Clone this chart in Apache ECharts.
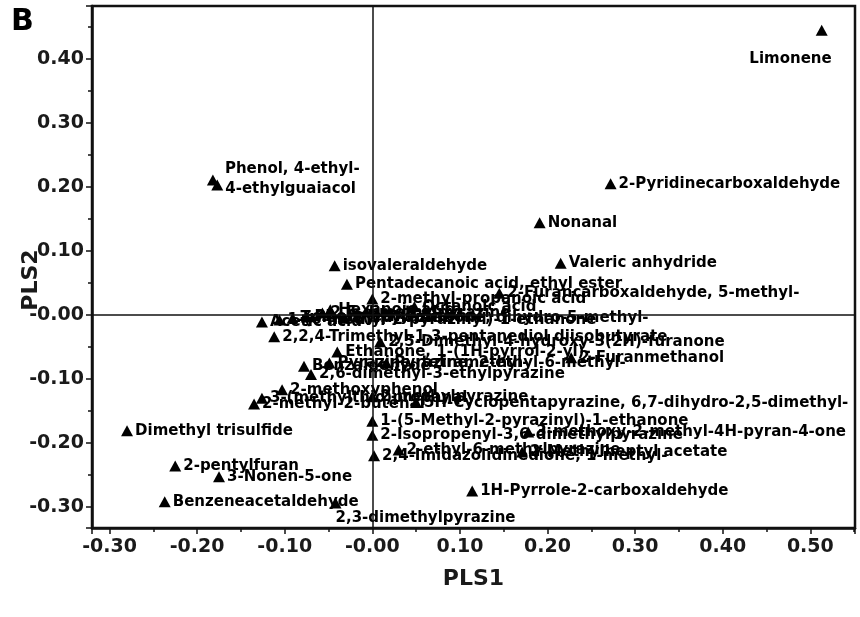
<!DOCTYPE html>
<html><head><meta charset="utf-8">
<script src="https://cdn.jsdelivr.net/npm/echarts@6/dist/echarts.min.js"></script>
<style>html,body{margin:0;padding:0;background:#fff}#c{width:860px;height:617px}</style>
</head><body><div id="c"></div>
<script>
// ---- data ----
const compounds = [
  'Limonene', 'Phenol, 4-ethyl-', '4-ethylguaiacol', '2-Pyridinecarboxaldehyde', 'Nonanal',
  'Valeric anhydride', 'isovaleraldehyde', 'Pentadecanoic acid, ethyl ester', '2-Furancarboxaldehyde, 5-methyl-',
  '2-methyl-propanoic acid', 'Hexanoic acid', 'Octanoic acid', '2(3H)-Furanone, dihydro-5-methyl-',
  'Acetic acid', '1-(6-methyl-2-pyrazinyl)-1-ethanone', 'Trimethylpyrazine', 'Phenylethyl Alcohol',
  '2,5-dimethylpyrazine', '2,2,4-Trimethyl-1,3-pentanediol diisobutyrate', '2,5-Dimethyl-4-hydroxy-3(2H)-furanone',
  'Ethanone, 1-(1H-pyrrol-2-yl)-', '2-Furanmethanol', 'Pyrazine, tetramethyl-', 'Benzaldehyde',
  'Pyrazine, 2-ethyl-6-methyl-', '2,6-dimethyl-3-ethylpyrazine', '2-methoxyphenol', '3-(methylthio)propanal',
  '2-methyl-2-butenal', '2-methylpyrazine', '5H-Cyclopentapyrazine, 6,7-dihydro-2,5-dimethyl-',
  '1-(5-Methyl-2-pyrazinyl)-1-ethanone', '2-Isopropenyl-3,6-dimethylpyrazine', '3-methoxy-2-methyl-4H-pyran-4-one',
  '2,4-Imidazolidinedione, 1-methyl-', '2-ethyl-6-methylpyrazine', '2-Methylheptyl acetate',
  '1H-Pyrrole-2-carboxaldehyde', '2,3-dimethylpyrazine', 'Dimethyl trisulfide', '2-pentylfuran',
  '3-Nonen-5-one', 'Benzeneacetaldehyde'
];
const pls1 = [
  0.513, -0.182, -0.177, 0.272, 0.191,
  0.215, -0.043, -0.029, 0.145,
  0.000, -0.048, 0.048, -0.032,
  -0.126, -0.106, -0.091, -0.075,
  -0.057, -0.112, 0.009,
  -0.040, 0.227, -0.049, -0.078,
  0.016, -0.070, -0.103, -0.126,
  -0.135, 0.000, 0.050,
  0.000, 0.000, 0.178,
  0.002, 0.030, 0.171,
  0.114, -0.042, -0.280, -0.225,
  -0.175, -0.237
];
const pls2 = [
  0.445, 0.211, 0.203, 0.205, 0.144,
  0.081, 0.077, 0.048, 0.034,
  0.025, 0.008, 0.013, -0.005,
  -0.011, -0.008, -0.005, -0.003,
  0.003, -0.034, -0.042,
  -0.058, -0.067, -0.075, -0.080,
  -0.075, -0.093, -0.117, -0.130,
  -0.139, -0.128, -0.137,
  -0.166, -0.188, -0.183,
  -0.220, -0.211, -0.214,
  -0.275, -0.294, -0.181, -0.236,
  -0.253, -0.292
];
const xRange = [-0.32, 0.551];
const yRange = [-0.333, 0.483];

// ---- styling ----
const FONT = 'DejaVu Sans';
// label anchors relative to the marker's bounding box (top-left corner)
const labelPlacement = {
  'Limonene': { position: [16, 34], align: 'right', verticalAlign: 'middle' },
  'Phenol, 4-ethyl-': { position: [18, -5], align: 'left', verticalAlign: 'middle' },
  '4-ethylguaiacol': { position: [14, 9], align: 'left', verticalAlign: 'middle' },
  '2,3-dimethylpyrazine': { position: 'bottom', align: 'left', offset: [4, -4] }
};
const fmt = v => (Math.abs(v) < 1e-9 ? '-0.00' : v.toFixed(2));

const points = compounds.map((name, i) => {
  const lp = labelPlacement[name] || {};
  return {
    name: name,
    value: [pls1[i], pls2[i]],
    label: Object.assign({ position: 'right', distance: 2 }, lp)
  };
});

const chart = echarts.init(document.getElementById('c'), null, { renderer: 'canvas' });
const axisCommon = {
  type: 'value',
  splitLine: { show: false },
  axisLine: { show: true, onZero: false, lineStyle: { color: '#111', width: 2.5 } },
  axisTick: { show: true, inside: false, length: 6, lineStyle: { color: '#111', width: 1.5 } },
  minorTick: { show: true, splitNumber: 2, length: 4, lineStyle: { color: '#111', width: 1.5 } },
  axisLabel: { formatter: fmt, color: '#1a1a1a', fontFamily: FONT, fontWeight: 'bold', fontSize: 19, showMinLabel: false, showMaxLabel: false },
  nameLocation: 'middle',
  nameMoveOverlap: false,
  nameTextStyle: { color: '#1a1a1a', fontFamily: FONT, fontWeight: 'bold', fontSize: 22 }
};
chart.setOption({
  backgroundColor: '#fff',
  animation: false,
  title: { text: 'B', left: 6, top: 2, textStyle: { fontFamily: FONT, fontWeight: 'bold', fontSize: 30, color: '#000' } },
  grid: { left: 92, right: 5, top: 6, bottom: 89, show: true, borderColor: '#111', borderWidth: 2.5, backgroundColor: 'transparent', outerBoundsMode: 'none', containLabel: false },
  xAxis: Object.assign({}, axisCommon, {
    min: xRange[0], max: xRange[1], splitNumber: 9, name: 'PLS1', nameGap: 40,
    axisLabel: Object.assign({}, axisCommon.axisLabel, { margin: 10 })
  }),
  yAxis: Object.assign({}, axisCommon, {
    min: yRange[0], max: yRange[1], splitNumber: 8, name: 'PLS2', nameGap: 50,
    nameTextStyle: Object.assign({}, axisCommon.nameTextStyle, { padding: [0, 26, 0, 0] }),
    axisLabel: Object.assign({}, axisCommon.axisLabel, { margin: 8 })
  }),
  series: [{
    type: 'scatter',
    symbol: 'triangle',
    symbolSize: [12, 11],
    itemStyle: { color: '#000', opacity: 1 },
    label: {
      show: true,
      formatter: p => p.name,
      color: '#000',
      fontFamily: FONT,
      fontWeight: 'bold',
      fontSize: 15
    },
    labelLayout: { hideOverlap: false },
    data: points,
    markLine: {
      silent: true,
      symbol: 'none',
      label: { show: false },
      lineStyle: { color: '#111', width: 1.5, type: 'solid' },
      data: [{ xAxis: 0 }, { yAxis: 0 }]
    }
  }]
});
</script>
</body></html>
